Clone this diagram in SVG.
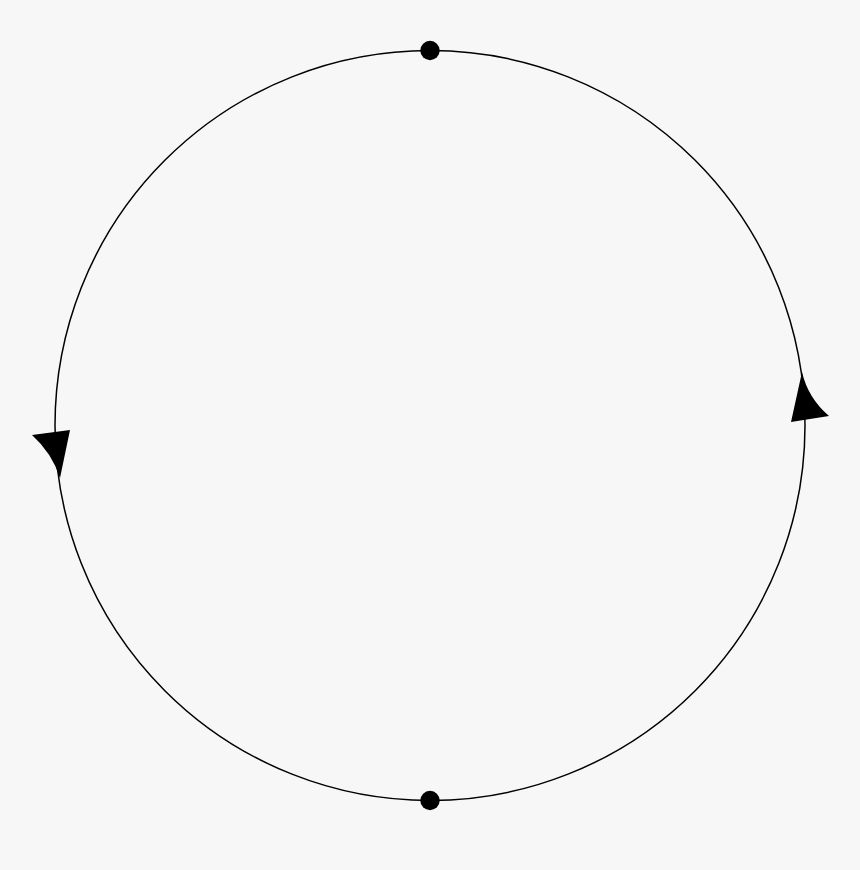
<svg xmlns="http://www.w3.org/2000/svg" width="860" height="870" viewBox="0 0 860 870">
<style>
.edge{fill:none;stroke:#000;stroke-width:1.5}
.head{fill:#000;stroke:none}
.dot{fill:#000}
</style>
<rect width="860" height="870" fill="#f7f7f7"/>
<g id="connectors">
<circle class="edge" cx="430" cy="425.5" r="375"/>
<path class="head" d="M32,435 L70,430 L60,478 Q52,453 32,435 Z"/>
<path class="head" d="M802,372 Q808,398 829,416 L791,422 Z"/>
</g>
<g id="node-top"><circle class="dot" cx="430" cy="50.5" r="9.7"/></g>
<g id="node-bottom"><circle class="dot" cx="430" cy="800.5" r="9.7"/></g>
</svg>
